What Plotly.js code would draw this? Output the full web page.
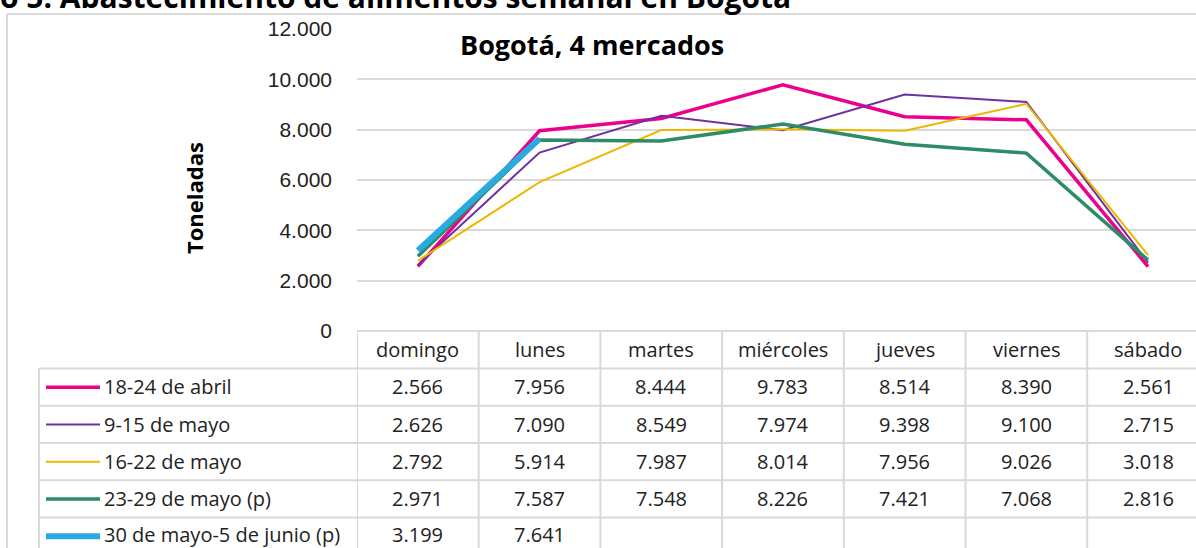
<!DOCTYPE html>
<html>
<head>
<meta charset="utf-8">
<script src="https://cdn.plot.ly/plotly-3.0.1.min.js"></script>
<style>
html,body{margin:0;padding:0;background:#fff;overflow:hidden;}
#chart{width:1196px;height:548px;}
</style>
</head>
<body>
<div id="chart"></div>
<script>
// ---- data ----
const categories = ["domingo", "lunes", "martes", "miércoles", "jueves", "viernes", "sábado"];
const seriesNames = ["18-24 de abril", "9-15 de mayo", "16-22 de mayo", "23-29 de mayo (p)", "30 de mayo-5 de junio (p)"];
const abril18_24 = [2566, 7956, 8444, 9783, 8514, 8390, 2561];
const mayo9_15 = [2626, 7090, 8549, 7974, 9398, 9100, 2715];
const mayo16_22 = [2792, 5914, 7987, 8014, 7956, 9026, 3018];
const mayo23_29 = [2971, 7587, 7548, 8226, 7421, 7068, 2816];
const mayo30_jun5 = [3199, 7641, null, null, null, null, null];
const yTickVals = [0, 2000, 4000, 6000, 8000, 10000, 12000];
const chartTitle = "Bogotá, 4 mercados";
const pageTitle = "o 5. Abastecimiento de alimentos semanal en Bogotá";
const yTitle = "Toneladas";

// ---- style ----
const colors = ["#EC008C", "#7030A0", "#EDB800", "#2E8B67", "#29ABE2"];
const widths = [3.5, 2, 2, 3.5, 6];
const allSeries = [abril18_24, mayo9_15, mayo16_22, mayo23_29, mayo30_jun5];

const W = 1196, H = 548;
const L = 357, R = 0, T = 29, B = 217;
const plotW = W - L - R, plotH = H - T - B;
const px = x => (x - L) / plotW;          // pixel x -> paper
const py = y => (H - B - y) / plotH;      // pixel y -> paper
const gridCol = "#d9d9d9";
const tableFont = {family: "Open Sans, sans-serif", size: 20, color: "#222"};

function fmt(v) {
  if (v === null || v === undefined) return "";
  return Math.round(v).toString().replace(/\B(?=(\d{3})+(?!\d))/g, ".");
}

const traces = allSeries.map((s, i) => ({
  type: "scatter", mode: "lines",
  x: categories, y: s, name: seriesNames[i],
  line: {color: colors[i], width: widths[i]},
  connectgaps: false, showlegend: false, hoverinfo: "x+y+name"
}));

const rowTops = [331, 368.5, 405.8, 443, 480.3, 517.6];
const rowH = 37.3;
const textCenters = [349.5, 386.5, 424, 461.5, 498.5, 534];
const shapes = [];
const annotations = [];

// outer border
shapes.push({type: "line", xref: "paper", yref: "paper", x0: px(7), x1: px(W + 5), y0: py(14), y1: py(14), line: {color: gridCol, width: 2}});
shapes.push({type: "line", xref: "paper", yref: "paper", x0: px(7), x1: px(7), y0: py(14), y1: py(H + 5), line: {color: gridCol, width: 2}});

// table horizontal lines
shapes.push({type: "line", xref: "paper", yref: "paper", x0: px(357), x1: px(W + 5), y0: py(rowTops[0]), y1: py(rowTops[0]), line: {color: gridCol, width: 2}});
for (let r = 1; r < rowTops.length; r++) {
  shapes.push({type: "line", xref: "paper", yref: "paper", x0: px(39), x1: px(W + 5), y0: py(rowTops[r]), y1: py(rowTops[r]), line: {color: gridCol, width: 2}});
}
// table vertical lines (category boundaries)
for (let i = 0; i <= categories.length; i++) {
  shapes.push({type: "line", xref: "x", yref: "paper", x0: i - 0.5, x1: i - 0.5, y0: py(rowTops[0]), y1: py(H + 5), line: {color: gridCol, width: 2}});
}
shapes.push({type: "line", xref: "paper", yref: "paper", x0: px(39), x1: px(39), y0: py(rowTops[1]), y1: py(H + 5), line: {color: gridCol, width: 2}});

// header labels
categories.forEach((c, i) => {
  annotations.push({xref: "x", yref: "paper", x: i, y: py(textCenters[0]), text: c, showarrow: false, font: tableFont, xanchor: "center", yanchor: "middle", borderpad: 0});
});
// rows
allSeries.forEach((s, r) => {
  const yc = textCenters[r + 1];
  const lc = rowTops[r + 1] + rowH / 2;
  shapes.push({type: "line", xref: "paper", yref: "paper", x0: px(46), x1: px(100), y0: py(lc), y1: py(lc), line: {color: colors[r], width: widths[r]}});
  annotations.push({xref: "paper", yref: "paper", x: px(103), y: py(yc), text: seriesNames[r], showarrow: false, font: tableFont, xanchor: "left", yanchor: "middle", borderpad: 0});
  s.forEach((v, i) => {
    if (v === null) return;
    annotations.push({xref: "x", yref: "paper", x: i, y: py(yc), text: fmt(v), showarrow: false, font: tableFont, xanchor: "center", yanchor: "middle", borderpad: 0});
  });
});

// chart title
annotations.push({xref: "paper", yref: "paper", x: px(592), y: py(44), text: "<b>" + chartTitle + "</b>", showarrow: false, font: {family: "Open Sans, sans-serif", size: 27, color: "#000"}, xanchor: "center", yanchor: "middle"});
// y title
annotations.push({xref: "paper", yref: "paper", x: px(194), y: py(198), text: "<b>" + yTitle + "</b>", textangle: -90, showarrow: false, font: {family: "Open Sans, sans-serif", size: 22, color: "#000"}, xanchor: "center", yanchor: "middle"});
// page title (clipped at the top edge, as in the reference)
annotations.push({xref: "paper", yref: "paper", x: px(-2), y: py(-4), text: "<b>" + pageTitle + "</b>", showarrow: false, font: {family: "Open Sans, sans-serif", size: 30, color: "#000"}, xanchor: "left", yanchor: "middle"});

const layout = {
  width: W, height: H,
  margin: {l: L, r: R, t: T, b: B, pad: 0},
  paper_bgcolor: "#fff", plot_bgcolor: "#fff",
  separators: ",.",
  showlegend: false,
  xaxis: {type: "category", range: [-0.5, -0.5 + plotW / 121.7], showticklabels: false, showgrid: false, zeroline: false, showline: false, ticks: "", fixedrange: true},
  yaxis: {range: [0, 12000], tickvals: yTickVals, ticktext: yTickVals.map(fmt), showgrid: true, gridcolor: gridCol, gridwidth: 2, zeroline: false, showline: false, ticks: "", ticklabelstandoff: 24, tickfont: {family: "Liberation Sans, sans-serif", size: 21, color: "#222"}, fixedrange: true},
  shapes: shapes,
  annotations: annotations
};

Plotly.newPlot("chart", traces, layout, {displayModeBar: false, staticPlot: true});
</script>
</body>
</html>
